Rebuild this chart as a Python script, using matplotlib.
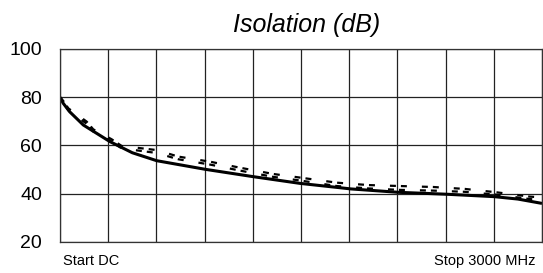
import matplotlib
matplotlib.use('Agg')
import matplotlib.pyplot as plt
import numpy as np

plt.rcParams['font.family'] = ['Liberation Sans', 'DejaVu Sans']
plt.rcParams['lines.scale_dashes'] = False

# frequency (MHz) and isolation (dB)
freq_solid = [0, 20, 60, 145, 311, 450, 602, 907, 1201, 1494, 1811, 2105, 2406, 2703, 2850, 3000]
iso_solid = [80.0, 77.5, 74.0, 68.5, 61.6, 57.0, 53.7, 50.1, 47.1, 44.3, 42.0, 40.6, 39.8, 38.8, 37.8, 36.0]

freq_dash1 = [0, 20, 52, 166, 207, 321, 384, 602, 736, 933, 1120, 1327, 1494, 1722, 1919, 2116, 2323, 2520, 2717, 2925, 3000]
iso_dash1 = [80.0, 78.5, 75.4, 69.9, 66.7, 62.6, 59.8, 58.1, 55.4, 53.3, 50.8, 48.2, 46.7, 44.6, 43.6, 43.2, 42.8, 42.0, 40.6, 38.8, 38.5]

freq_dash2 = [0, 20, 52, 166, 207, 321, 384, 602, 736, 933, 1120, 1327, 1494, 1722, 1919, 2116, 2323, 2520, 2717, 2925, 3000]
iso_dash2 = [80.0, 78.0, 74.6, 69.0, 65.8, 61.7, 58.8, 56.9, 54.3, 52.1, 49.6, 47.0, 45.5, 43.2, 42.2, 41.6, 41.3, 40.8, 39.6, 37.8, 37.4]

x_ticks = np.linspace(0, 3000, 11)
y_ticks = [20, 40, 60, 80, 100]

fig = plt.figure(figsize=(5.43, 2.73), dpi=100)
ax = fig.add_axes([60 / 543, 1 - 242 / 273, 482 / 543, 193 / 273])

dash_pat = (0, (4.3, 3.6, 4.3, 10.8))
ax.plot(freq_dash1, iso_dash1, color='black', lw=1.6, linestyle=dash_pat)
ax.plot(freq_dash2, iso_dash2, color='black', lw=1.6, linestyle=dash_pat)
ax.plot(freq_solid, iso_solid, color='black', lw=2.2, solid_capstyle='butt')

ax.set_xlim(0, 3000)
ax.set_ylim(20, 100)
ax.set_xticks(x_ticks)
ax.set_yticks(y_ticks)
ax.set_xticklabels([])
ax.grid(True, color='#222222', lw=0.9)
ax.tick_params(axis='both', length=0)
ax.tick_params(axis='y', labelsize=14, pad=13)
for s in ax.spines.values():
    s.set_color('#333333')
    s.set_linewidth(0.9)

fig.text(307 / 543, 1 - 32 / 273, 'Isolation (dB)', fontsize=18, style='italic',
         ha='center', va='baseline')
fig.text(63 / 543, 1 - 265 / 273, 'Start DC', fontsize=10.5, ha='left', va='baseline')
fig.text(535 / 543, 1 - 265 / 273, 'Stop 3000 MHz', fontsize=10.5, ha='right', va='baseline')

fig.savefig('out.png', dpi=100)
